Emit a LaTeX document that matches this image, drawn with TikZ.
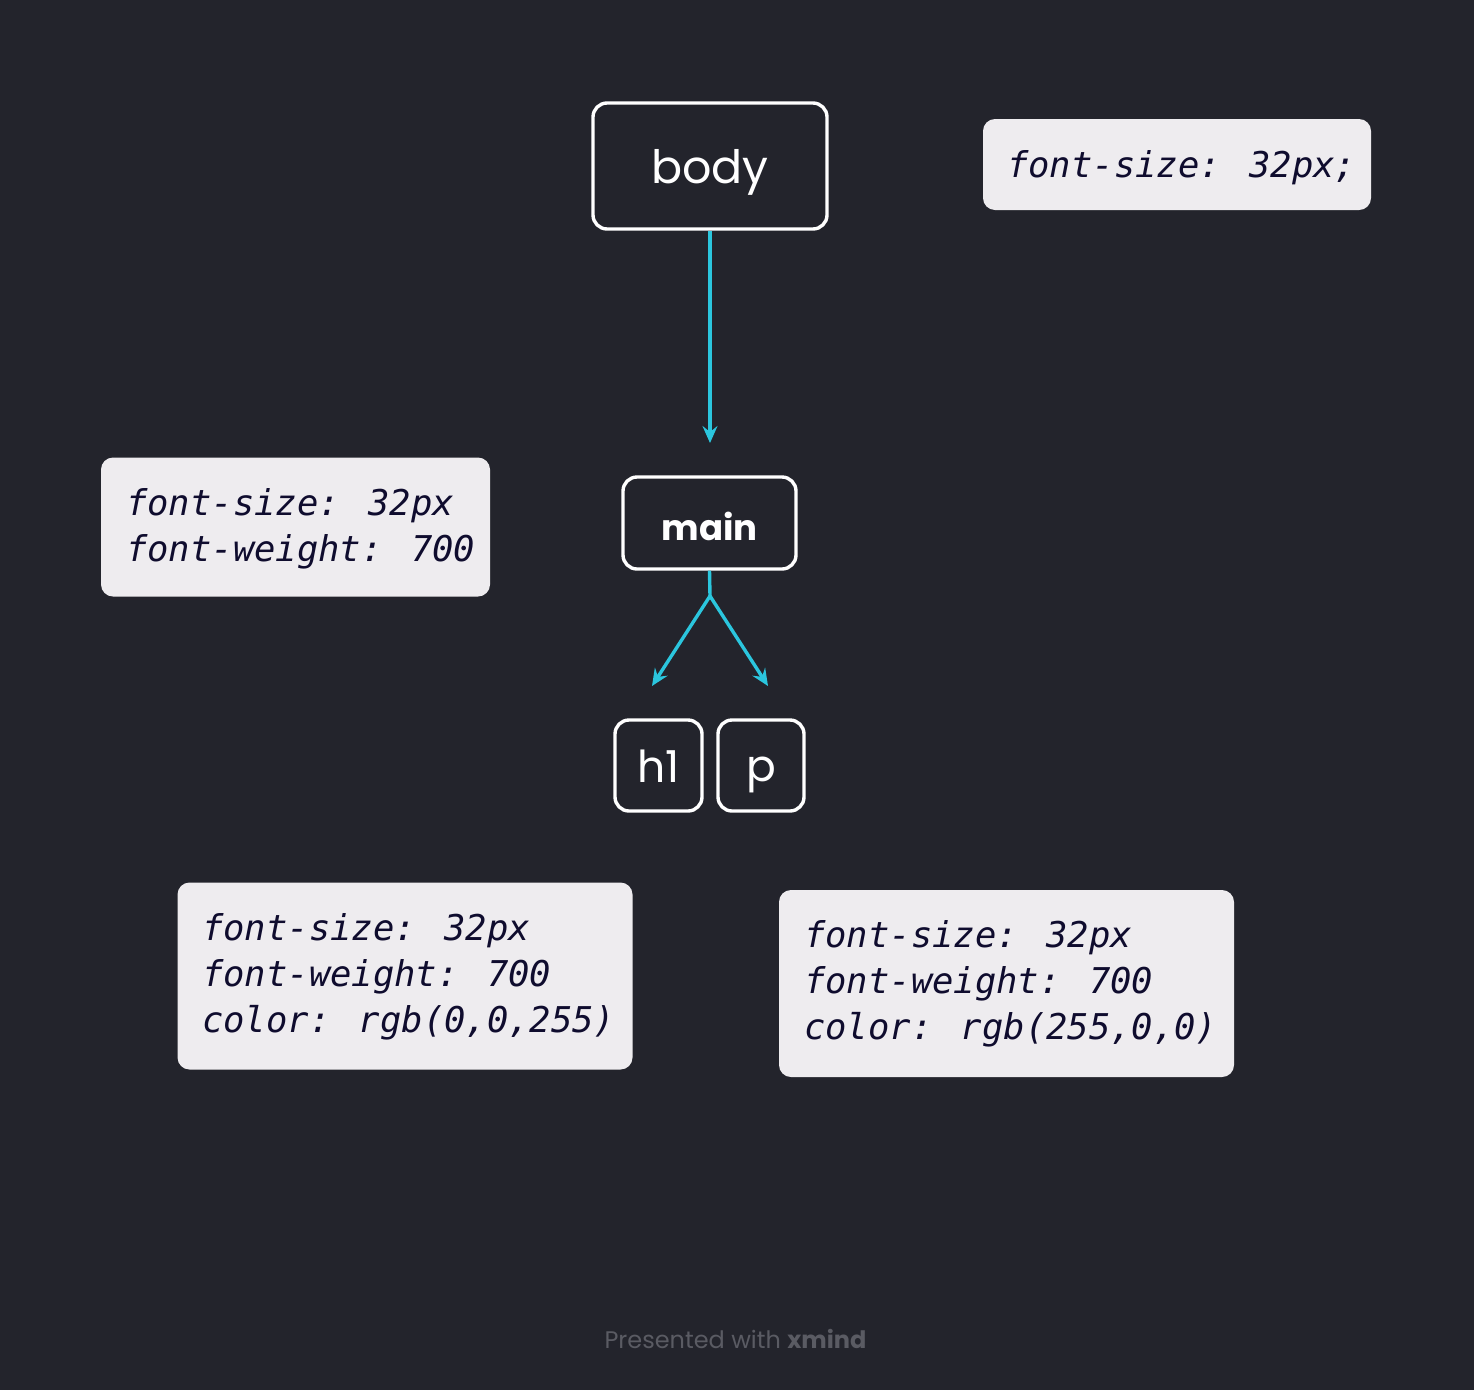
\documentclass[tikz,border=0pt]{standalone}
\usepackage{fontspec}
\setmainfont{Poppins}
\newfontfamily\codefont{DejaVu Sans Mono}
\usetikzlibrary{arrows.meta}
\definecolor{bgc}{HTML}{23242C}
\definecolor{notefill}{HTML}{EEECEF}
\definecolor{notetxt}{HTML}{0F0C2E}
\definecolor{cyanl}{HTML}{2BC6DE}
\definecolor{footgray}{HTML}{5A5B63}
\tikzset{
  topic/.style={draw=white, line width=3.4pt, rounded corners=14pt, fill=bgc, text=white, inner sep=0pt, text depth=0pt},
  note/.style={fill=notefill, rounded corners=12pt, inner sep=0pt},
  notetext/.style={text=notetxt, font=\codefont\itshape\fontsize{35.5}{46}\selectfont, align=left, inner sep=0pt, anchor=base west},
  conn/.style={draw=cyanl, line width=3.4pt, -{Stealth[length=17pt,width=15pt,inset=6pt]}},
}
\begin{document}
\begin{tikzpicture}[x=1pt,y=-1pt]
\fill[bgc] (0,0) rectangle (1474,1390);
\useasboundingbox (0,0) rectangle (1474,1390);
% topics
\node[topic, minimum width=234pt, minimum height=126pt, text height=34pt, font=\fontsize{46}{50}\selectfont] (body) at (710,166) {body};
\node[topic, minimum width=173pt, minimum height=92pt, text height=34pt, font=\bfseries\fontsize{35.5}{44}\selectfont] (main) at (709.5,523) {main};
\node[topic, minimum width=87pt, minimum height=91pt, text height=33pt, font=\fontsize{44}{48}\selectfont] (h1) at (658.5,765.5) {h1};
\node[topic, minimum width=86pt, minimum height=91pt, text height=31pt, font=\fontsize{44}{48}\selectfont] (p) at (761,765.5) {p};
% connectors
\coordinate (bodyend) at (710,443);
\coordinate (fork) at (710,596);
\coordinate (h1end) at (652,686);
\coordinate (pend) at (768,686);
\draw[conn] (body.south) -- (bodyend);
\draw[draw=cyanl, line width=3.4pt] (main.south) -- (fork);
\draw[conn] (fork) -- (h1end);
\draw[conn] (fork) -- (pend);
% notes
\node[note, minimum width=388pt, minimum height=91pt] (n1) at (1177,164.5) {};
\node[notetext] (t1) at (1007,177) {font-size: 32px;};
\node[note, minimum width=389pt, minimum height=139pt] (n2) at (295.5,527) {};
\node[notetext] (t2a) at (126,515) {font-size: 32px};
\node[notetext] (t2b) at (126,561) {font-weight: 700};
\node[note, minimum width=455pt, minimum height=187pt] (n3) at (405,976) {};
\node[notetext] (t3a) at (202,940) {font-size: 32px};
\node[notetext] (t3b) at (202,986) {font-weight: 700};
\node[notetext] (t3c) at (202,1032) {color: rgb(0,0,255)};
\node[note, minimum width=455pt, minimum height=187pt] (n4) at (1006.5,983.5) {};
\node[notetext] (t4a) at (804,947) {font-size: 32px};
\node[notetext] (t4b) at (804,993) {font-weight: 700};
\node[notetext] (t4c) at (804,1039) {color: rgb(255,0,0)};
% footer
\node[text=footgray, font=\fontsize{24}{28}\selectfont, anchor=base] (foot) at (735.5,1348) {Presented with \textbf{xmind}};
\end{tikzpicture}
\end{document}
